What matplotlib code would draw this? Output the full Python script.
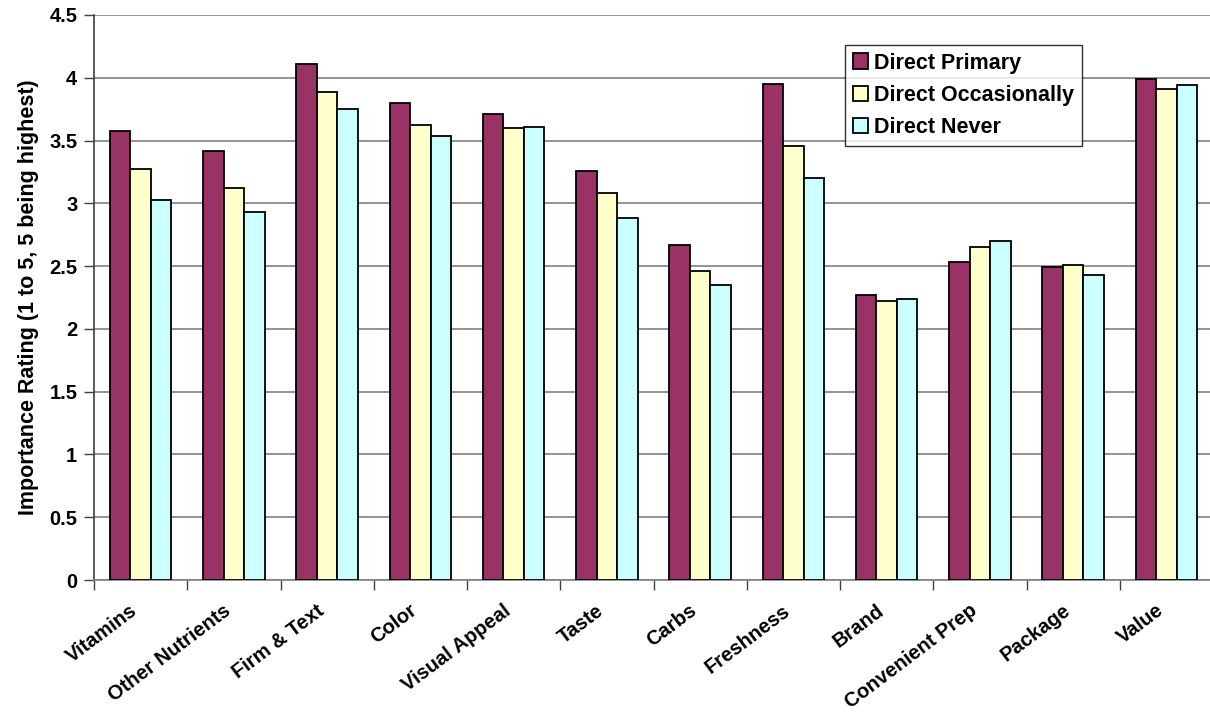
import numpy as np
import matplotlib
matplotlib.use("Agg")
import matplotlib.pyplot as plt
from matplotlib.transforms import ScaledTranslation

plt.rcParams.update({
    "font.family": ["Liberation Sans", "DejaVu Sans"],
    "font.weight": "bold",
})

categories = ["Vitamins", "Other Nutrients", "Firm & Text", "Color", "Visual Appeal",
              "Taste", "Carbs", "Freshness", "Brand", "Convenient Prep", "Package", "Value"]
direct_primary = [3.58, 3.42, 4.11, 3.80, 3.71, 3.26, 2.67, 3.95, 2.27, 2.53, 2.49, 3.99]
direct_occasionally = [3.27, 3.12, 3.89, 3.62, 3.60, 3.08, 2.46, 3.46, 2.22, 2.65, 2.51, 3.91]
direct_never = [3.03, 2.93, 3.75, 3.54, 3.61, 2.88, 2.35, 3.20, 2.24, 2.70, 2.43, 3.94]
series_names = ["Direct Primary", "Direct Occasionally", "Direct Never"]
yticks = [0, 0.5, 1, 1.5, 2, 2.5, 3, 3.5, 4, 4.5]

colors = ["#993366", "#FFFFCC", "#CCFFFF"]

fig = plt.figure(figsize=(12.10, 7.13), dpi=100)
ax = fig.add_axes([94 / 1210, 1 - 580 / 713, (1213 - 94) / 1210, (580 - 15) / 713])

x = np.arange(len(categories))
w = 0.22
for i, (vals, name) in enumerate(zip([direct_primary, direct_occasionally, direct_never], series_names)):
    ax.bar(x + (i - 1) * w, vals, w, color=colors[i], edgecolor="black",
           linewidth=1.3, label=name, zorder=3)

ax.set_xlim(-0.5, len(categories) - 0.5)
ax.set_ylim(0, 4.5)
ax.set_yticks(yticks)
ax.set_yticklabels([f"{t:g}" for t in yticks], fontsize=14.5, fontweight="bold")
ax.yaxis.grid(True, color="#808080", linewidth=1.2, zorder=0)
ax.set_axisbelow(True)

# category boundaries carry the tick marks, labels sit at centers
ax.set_xticks(np.arange(len(categories) + 1) - 0.5)
ax.set_xticklabels([])
ax.set_xticks(x, minor=True)
ax.set_xticklabels(categories, minor=True, rotation=37, ha="right",
                   rotation_mode="anchor", fontsize=14.5, fontweight="bold")
ax.tick_params(axis="x", which="minor", length=0, pad=15)
ax.tick_params(axis="x", which="major", length=7, width=1, color="#404040")
ax.tick_params(axis="y", length=7, width=1, color="#404040", pad=5)
shift = ScaledTranslation(-0.11, 0, fig.dpi_scale_trans)
for lbl in ax.get_xticklabels(minor=True):
    lbl.set_transform(lbl.get_transform() + shift)

ax.set_ylabel("Importance Rating (1 to 5, 5 being highest)", fontsize=15.5,
              fontweight="bold", labelpad=7)

for s in ["top", "right"]:
    ax.spines[s].set_visible(False)
ax.spines["left"].set_color("#404040")
ax.spines["bottom"].set_color("#808080")
ax.spines["left"].set_linewidth(1.2)
ax.spines["bottom"].set_linewidth(1.2)

leg = ax.legend(loc="upper left", bbox_to_anchor=((845 - 94) / 1119, 1 - (45 - 15) / 565),
                frameon=True, fancybox=False, edgecolor="black",
                prop={"weight": "bold", "size": 15.5}, handlelength=0.7, handleheight=0.7,
                handletextpad=0.3, borderpad=0.35, labelspacing=0.53, borderaxespad=0)
leg.get_frame().set_linewidth(1.0)
leg.set_zorder(5)

fig.savefig("out.png", dpi=100)
